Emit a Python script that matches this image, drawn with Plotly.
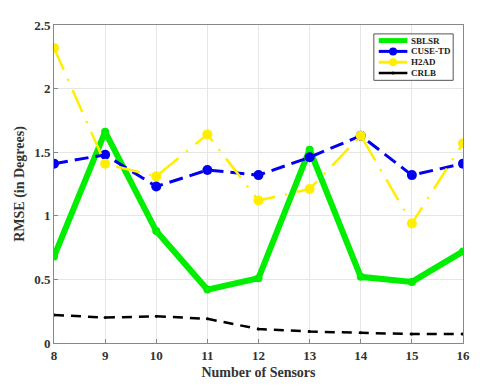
import plotly.graph_objects as go

sensors = [8, 9, 10, 11, 12, 13, 14, 15, 16]
sblsr = [0.68, 1.66, 0.88, 0.42, 0.51, 1.52, 0.52, 0.48, 0.72]
cuse_td = [1.41, 1.48, 1.23, 1.36, 1.32, 1.46, 1.63, 1.32, 1.41]
h2ad = [2.32, 1.41, 1.31, 1.64, 1.12, 1.21, 1.63, 0.94, 1.57]
crlb = [0.22, 0.20, 0.21, 0.19, 0.11, 0.09, 0.08, 0.07, 0.07]
names = ["SBLSR", "CUSE-TD", "H2AD", "CRLB"]

font = "Liberation Serif"
styles = [
    dict(color="#00ee00", width=6, dash="solid", msize=8),
    dict(color="#0000ee", width=3, dash="14px,7px", msize=10),
    dict(color="#ffee00", width=2.5, dash="24px,10px,2px,10px", msize=10),
    dict(color="black", width=2.5, dash="10px,7px", msize=3),
]
series = [sblsr, cuse_td, h2ad, crlb]

fig = go.Figure()
for name, ys, st in zip(names, series, styles):
    fig.add_trace(go.Scatter(x=sensors, y=ys, name=name, mode="lines+markers",
                             line=dict(color=st["color"], width=st["width"], dash=st["dash"]),
                             marker=dict(size=st["msize"], color=st["color"])))

# compact legend drawn as layout decoration
shapes = [dict(type="rect", xref="paper", yref="paper", x0=0.782, x1=0.976, y0=0.826, y1=0.972,
               line=dict(color="#555555", width=1), fillcolor="white", layer="above")]
annotations = []
rows = [0.951, 0.917, 0.883, 0.849]
for name, st, ry in zip(names, styles, rows):
    lw = {"SBLSR": 5, "CUSE-TD": 3, "H2AD": 3, "CRLB": 2.5}[name]
    shapes.append(dict(type="line", xref="paper", yref="paper", x0=0.794, x1=0.864, y0=ry, y1=ry,
                       line=dict(color=st["color"], width=lw), layer="above"))
    ms = 4 if name != "CRLB" else 1.5
    if name != "SBLSR":
        shapes.append(dict(type="circle", xref="paper", yref="paper", xsizemode="pixel", ysizemode="pixel",
                           xanchor=0.829, yanchor=ry, x0=-ms, x1=ms, y0=-ms, y1=ms,
                           fillcolor=st["color"], line=dict(color=st["color"], width=0), layer="above"))
    annotations.append(dict(xref="paper", yref="paper", x=0.870, y=ry, xanchor="left", yanchor="middle",
                            text=f"<b>{name}</b>", showarrow=False, borderpad=0,
                            font=dict(family=font, size=9, color="#222222")))

axis_common = dict(showline=True, linecolor="#888888", linewidth=1, mirror=True,
                   showgrid=True, gridcolor="#e6e6e6", zeroline=False, ticks="inside",
                   ticklen=4, tickcolor="#888888",
                   tickfont=dict(family=font, size=13, color="#333333"))
fig.update_xaxes(range=[8, 16], tickvals=sensors, ticktext=[f"<b>{s}</b>" for s in sensors],
                 title=dict(text="<b>Number of Sensors</b>", font=dict(family=font, size=14, color="#333333"), standoff=5),
                 **axis_common)
yt = [0, 0.5, 1, 1.5, 2, 2.5]
fig.update_yaxes(range=[0, 2.5], tickvals=yt, ticktext=["<b>0</b>", "<b>0.5</b>", "<b>1</b>", "<b>1.5</b>", "<b>2</b>", "<b>2.5</b>"],
                 title=dict(text="<b>RMSE (in Degrees)</b>", font=dict(family=font, size=14, color="#333333"), standoff=6),
                 **axis_common)
fig.update_layout(width=472, height=379, margin=dict(l=42, r=17, t=10, b=44),
                  plot_bgcolor="white", paper_bgcolor="white",
                  showlegend=False, shapes=shapes, annotations=annotations)
fig.write_html("out.html")
